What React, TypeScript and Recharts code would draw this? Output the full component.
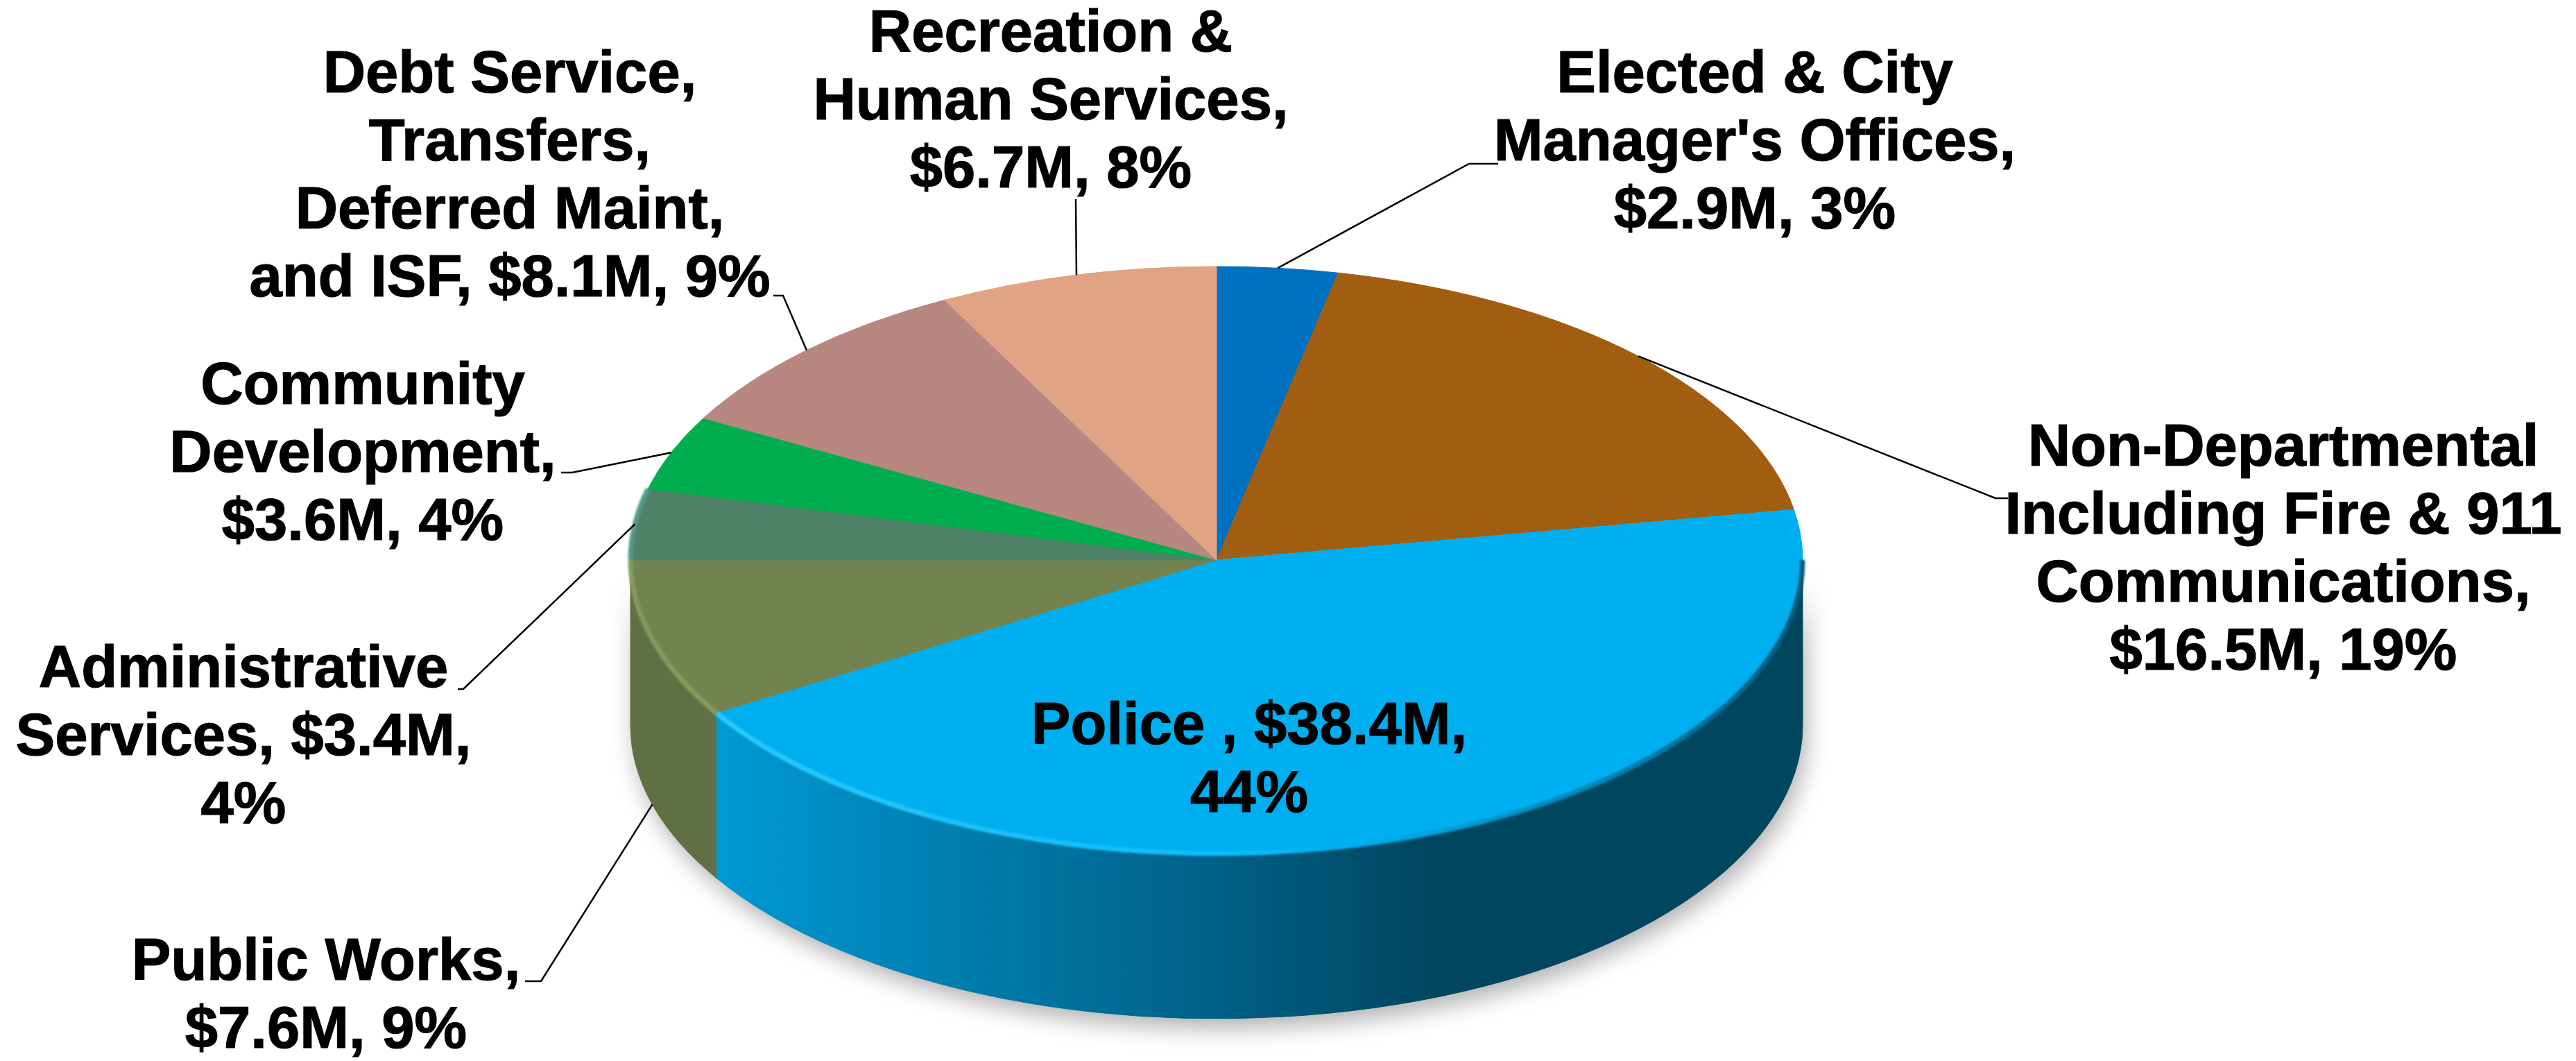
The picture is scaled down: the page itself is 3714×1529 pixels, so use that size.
import React from 'react';
import { PieChart, Pie } from 'recharts';

const categories = ['Elected & City Manager\'s Offices', 'Non-Departmental Including Fire & 911 Communications', 'Police', 'Public Works', 'Administrative Services', 'Community Development', 'Debt Service, Transfers, Deferred Maint, and ISF', 'Recreation & Human Services'];
const budget = [2.9, 16.5, 38.4, 7.6, 3.4, 3.6, 8.1, 6.7];
const topColors = ['#0070c0', '#a25e10', '#00afef', '#728350', '#4d8269', '#00ae4f', '#b98781', '#e0a484'];
const wallColors = ['#00558f', '#6f400b', 'url(#policeWall)', '#616f44', '#3a6250', '#008a3f', '#8d6762', '#ad7f66'];
const labelLines = [
  ['Elected & City', "Manager's Offices,", '$2.9M, 3%'],
  ['Non-Departmental', 'Including Fire & 911', 'Communications,', '$16.5M, 19%'],
  ['Police , $38.4M,', '44%'],
  ['Public Works,', '$7.6M, 9%'],
  ['Administrative', 'Services, $3.4M,', '4%'],
  ['Community', 'Development,', '$3.6M, 4%'],
  ['Debt Service,', 'Transfers,', 'Deferred Maint,', 'and ISF, $8.1M, 9%'],
  ['Recreation &', 'Human Services,', '$6.7M, 8%'],
];

// label block: centre x, first baseline; elbow = where the leader line leaves the text
const labelPlace = [
  { x: 2530, y: 133, from: [2160, 236], elbow: [2118, 236] },
  { x: 3292, y: 671, from: [2895, 718], elbow: [2877, 718] },
  { x: 1801, y: 1072 },
  { x: 470, y: 1412, from: [757, 1414], elbow: [780, 1414], onWall: true },
  { x: 351, y: 990, from: [660, 993], elbow: [668, 993] },
  { x: 523, y: 582, from: [809, 681], elbow: [825, 681] },
  { x: 735, y: 133, from: [1115, 426], elbow: [1129, 426] },
  { x: 1515, y: 74, from: [1551, 287], elbow: [1551, 287] },
];

const WIDTH = 3714;
const HEIGHT = 1529;
const CX = 1754;
const CY = 807;
const RX = 845;
const RY = 423;
const DEPTH = 238;
const LINE_HEIGHT = 98;
const FONT_SIZE = 85;

const chartData = categories.map((name, i) => ({ name, value: budget[i], fill: topColors[i], slice: i }));

const rad = (a: number) => (a * Math.PI) / 180;
const px = (a: number) => CX + RX * Math.cos(rad(a));
const py = (a: number, drop = 0) => CY - RY * Math.sin(rad(a)) + drop;

// elliptical arc, clockwise on screen as the angle falls
const arcTo = (a: number, drop = 0) => `A ${RX} ${RY} 0 ${0} 1 ${px(a)} ${py(a, drop)}`;
const arcBack = (a: number, drop = 0) => `A ${RX} ${RY} 0 ${0} 0 ${px(a)} ${py(a, drop)}`;

function arcPath(start: number, end: number, drop = 0) {
  // split so no single piece is longer than 90 degrees
  let d = '';
  const n = Math.ceil(Math.abs(start - end) / 90) || 1;
  for (let i = 1; i <= n; i++) d += arcTo(start + ((end - start) * i) / n, drop) + ' ';
  return d;
}

function arcBackPath(start: number, end: number, drop = 0) {
  let d = '';
  const n = Math.ceil(Math.abs(start - end) / 90) || 1;
  for (let i = 1; i <= n; i++) d += arcBack(start + ((end - start) * i) / n, drop) + ' ';
  return d;
}

const TopSlice = (props: any) => {
  const { startAngle, endAngle, fill } = props;
  const d = `M ${CX} ${CY} L ${px(startAngle)} ${py(startAngle)} ${arcPath(startAngle, endAngle)} Z`;
  return <path d={d} fill={fill} stroke={fill} strokeWidth={1} />;
};

const visibleWall = (startAngle: number, endAngle: number) => {
  const a = Math.min(startAngle, 0);
  const b = Math.max(endAngle, -180);
  return a > b ? [a, b] : null;
};

const WallSlice = (props: any) => {
  const range = visibleWall(props.startAngle, props.endAngle);
  if (!range) return <g />;
  const [a, b] = range;
  const d = `M ${px(a)} ${py(a)} ${arcPath(a, b)} L ${px(b)} ${py(b, DEPTH)} ${arcBackPath(b, a, DEPTH)} Z`;
  const fill = wallColors[props.slice ?? props.payload?.slice];
  return <path d={d} fill={fill} stroke={fill} strokeWidth={1} />;
};

const ShadowSlice = (props: any) => {
  const range = visibleWall(props.startAngle, props.endAngle);
  if (!range) return <g />;
  const [a, b] = range;
  const d = `M ${px(a)} ${py(a)} ${arcPath(a, b)} L ${px(b)} ${py(b, DEPTH)} ${arcBackPath(b, a, DEPTH)} Z`;
  return <path d={d} fill="#000" fillOpacity={0.3} filter="url(#pieShadow)" />;
};

const rimColors: Record<number, string> = { 2: 'url(#policeRim)', 3: '#849b5d', 4: '#559a85' };

const RimSlice = (props: any) => {
  const idx = props.slice ?? props.payload?.slice;
  const color = rimColors[idx];
  if (!color) return <g />;
  const a = Math.min(props.startAngle, idx === 2 ? 0 : props.startAngle);
  const d = `M ${px(a)} ${py(a)} ${arcPath(a, props.endAngle)}`;
  return <path d={d} fill="none" stroke={color} strokeWidth={7} filter="url(#rimBlur)" />;
};

const SliceLabel = (props: any) => {
  const { index, midAngle } = props;
  const place = labelPlace[index];
  return (
    <g>
      {place.from && (
        <polyline
          points={`${place.from.join(',')} ${place.elbow.join(',')} ${px(midAngle)},${py(midAngle, place.onWall ? DEPTH : 0)}`}
          fill="none"
          stroke="#000"
          strokeWidth={2.5}
        />
      )}
      <text fontFamily="'Liberation Sans', Arial, sans-serif" fontWeight={700} fontSize={FONT_SIZE} fill="#000" stroke="#000" strokeWidth={1.2} textAnchor="middle">
        {labelLines[index].map((line, i) => (
          <tspan key={line} x={place.x} y={place.y + i * LINE_HEIGHT}>{line}</tspan>
        ))}
      </text>
    </g>
  );
};

const pieProps = {
  data: chartData,
  dataKey: 'value',
  nameKey: 'name',
  cx: CX,
  cy: CY,
  outerRadius: RX,
  startAngle: 90,
  endAngle: -270,
  stroke: 'none',
  isAnimationActive: false,
  labelLine: false,
  rootTabIndex: -1,
};

export default function App() {
  return (
    <div style={{ position: 'absolute', left: 0, top: 0, width: WIDTH, height: HEIGHT, background: '#fff', overflow: 'hidden' }}>
      <PieChart width={WIDTH} height={HEIGHT} margin={{ top: 0, right: 0, bottom: 0, left: 0 }}>
        <defs>
          <linearGradient id="policeWall" gradientUnits="userSpaceOnUse" x1="1040" y1="0" x2="2065" y2="0">
            <stop offset="0" stopColor="#0099d3" />
            <stop offset="0.3" stopColor="#0080b1" />
            <stop offset="0.65" stopColor="#00648c" />
            <stop offset="1" stopColor="#00465f" />
          </linearGradient>
          <linearGradient id="policeRim" gradientUnits="userSpaceOnUse" x1="1040" y1="0" x2="2600" y2="0">
            <stop offset="0" stopColor="#2acaff" />
            <stop offset="0.45" stopColor="#10bbfb" />
            <stop offset="0.58" stopColor="#00afef" />
            <stop offset="0.8" stopColor="#0087b9" />
            <stop offset="1" stopColor="#00577a" />
          </linearGradient>
          <filter id="pieShadow" filterUnits="userSpaceOnUse" x="700" y="600" width="2200" height="929">
            <feGaussianBlur stdDeviation="16" />
            <feOffset dx="6" dy="14" />
          </filter>
          <filter id="rimBlur" filterUnits="userSpaceOnUse" x="700" y="200" width="2200" height="1300">
            <feGaussianBlur stdDeviation="1.5" />
          </filter>
        </defs>
        <Pie {...pieProps} shape={ShadowSlice} />
        <Pie {...pieProps} shape={WallSlice} />
        <Pie {...pieProps} shape={TopSlice} />
        <Pie {...pieProps} shape={RimSlice} label={SliceLabel} />
      </PieChart>
    </div>
  );
}
